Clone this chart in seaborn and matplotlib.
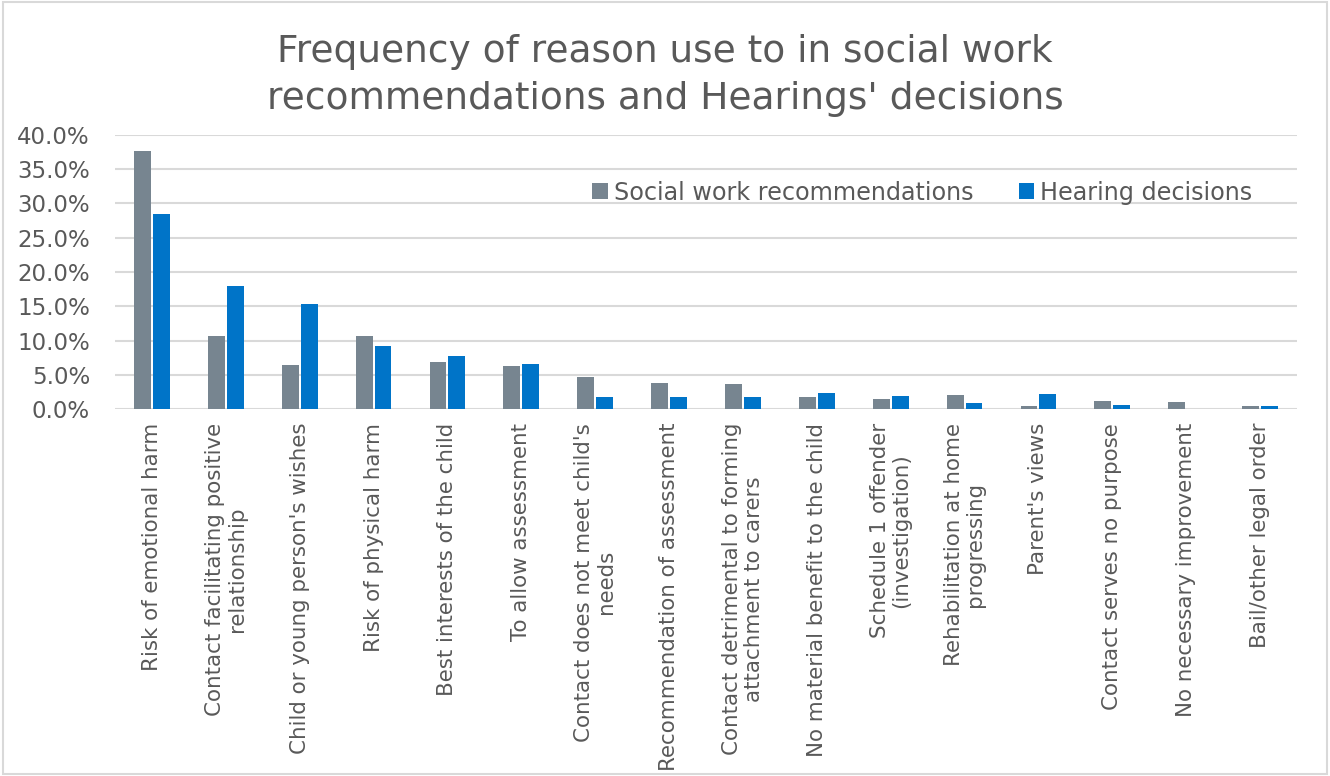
import numpy as np
import pandas as pd
import matplotlib
matplotlib.use("Agg")
import matplotlib.pyplot as plt
import seaborn as sns
from matplotlib.ticker import PercentFormatter

categories = [
    "Risk of emotional harm",
    "Contact facilitating positive\nrelationship",
    "Child or young person's wishes",
    "Risk of physical harm",
    "Best interests of the child",
    "To allow assessment",
    "Contact does not meet child's\nneeds",
    "Recommendation of assessment",
    "Contact detrimental to forming\nattachment to carers",
    "No material benefit to the child",
    "Schedule 1 offender\n(investigation)",
    "Rehabilitation at home\nprogressing",
    "Parent's views",
    "Contact serves no purpose",
    "No necessary improvement",
    "Bail/other legal order",
]
social_work = [37.6, 10.6, 6.4, 10.7, 6.8, 6.3, 4.7, 3.8, 3.7, 1.8, 1.4, 2.0, 0.4, 1.1, 1.0, 0.5]
hearing = [28.5, 17.9, 15.3, 9.2, 7.8, 6.5, 1.8, 1.8, 1.7, 2.3, 1.9, 0.9, 2.2, 0.6, 0.0, 0.5]
series_names = ["Social work recommendations", "Hearing decisions"]
title = "Frequency of reason use to in social work\nrecommendations and Hearings' decisions"

df = pd.DataFrame({
    "category": categories * 2,
    "value": [v / 100 for v in social_work] + [v / 100 for v in hearing],
    "series": [series_names[0]] * len(categories) + [series_names[1]] * len(categories),
})

sns.set_theme(style="white")
plt.rcParams["font.family"] = ["DejaVu Sans"]
text_color = "#595959"

fig = plt.figure(figsize=(13.3, 7.76), dpi=100)
ax = fig.add_axes([115 / 1330, 1 - 409 / 776, 1182 / 1330, 274 / 776])

sns.barplot(data=df, x="category", y="value", hue="series", order=categories,
            hue_order=series_names, palette=["#778590", "#0074C8"], saturation=1,
            width=0.51, gap=0.1, linewidth=0, ax=ax, legend=True)

ax.set_ylim(0, 0.4)
ax.set_xlim(-0.5, len(categories) - 0.5)
ax.set_yticks(np.arange(0, 0.401, 0.05))
ax.yaxis.set_major_formatter(PercentFormatter(1.0, decimals=1))
ax.grid(axis="y", color="#D9D9D9", linewidth=1.5)
ax.set_axisbelow(True)
for s in ax.spines.values():
    s.set_visible(False)
ax.set_xlabel("")
ax.set_ylabel("")
ax.tick_params(axis="y", length=0, pad=18, labelsize=16.5, labelcolor=text_color)
ax.tick_params(axis="x", length=0, pad=10, labelsize=15.4, labelcolor=text_color)
plt.setp(ax.get_xticklabels(), rotation=90, ha="center", va="top", multialignment="center",
         linespacing=1.1)

leg = ax.legend(loc="center", bbox_to_anchor=(0.683, 0.79), ncol=2, frameon=False,
                fontsize=17.2, handlelength=0.65, handleheight=0.65, handletextpad=0.25,
                columnspacing=1.9, labelcolor=text_color)

fig.text(0.5, 1 - 117 / 776, title, ha="center", va="bottom", fontsize=27, color=text_color,
         linespacing=1.4)

fig.patches.append(plt.Rectangle((0.002, 0.002), 0.996, 0.996, transform=fig.transFigure,
                                 fill=False, edgecolor="#D9D9D9", linewidth=1.5))

fig.savefig("out.png", dpi=100)
